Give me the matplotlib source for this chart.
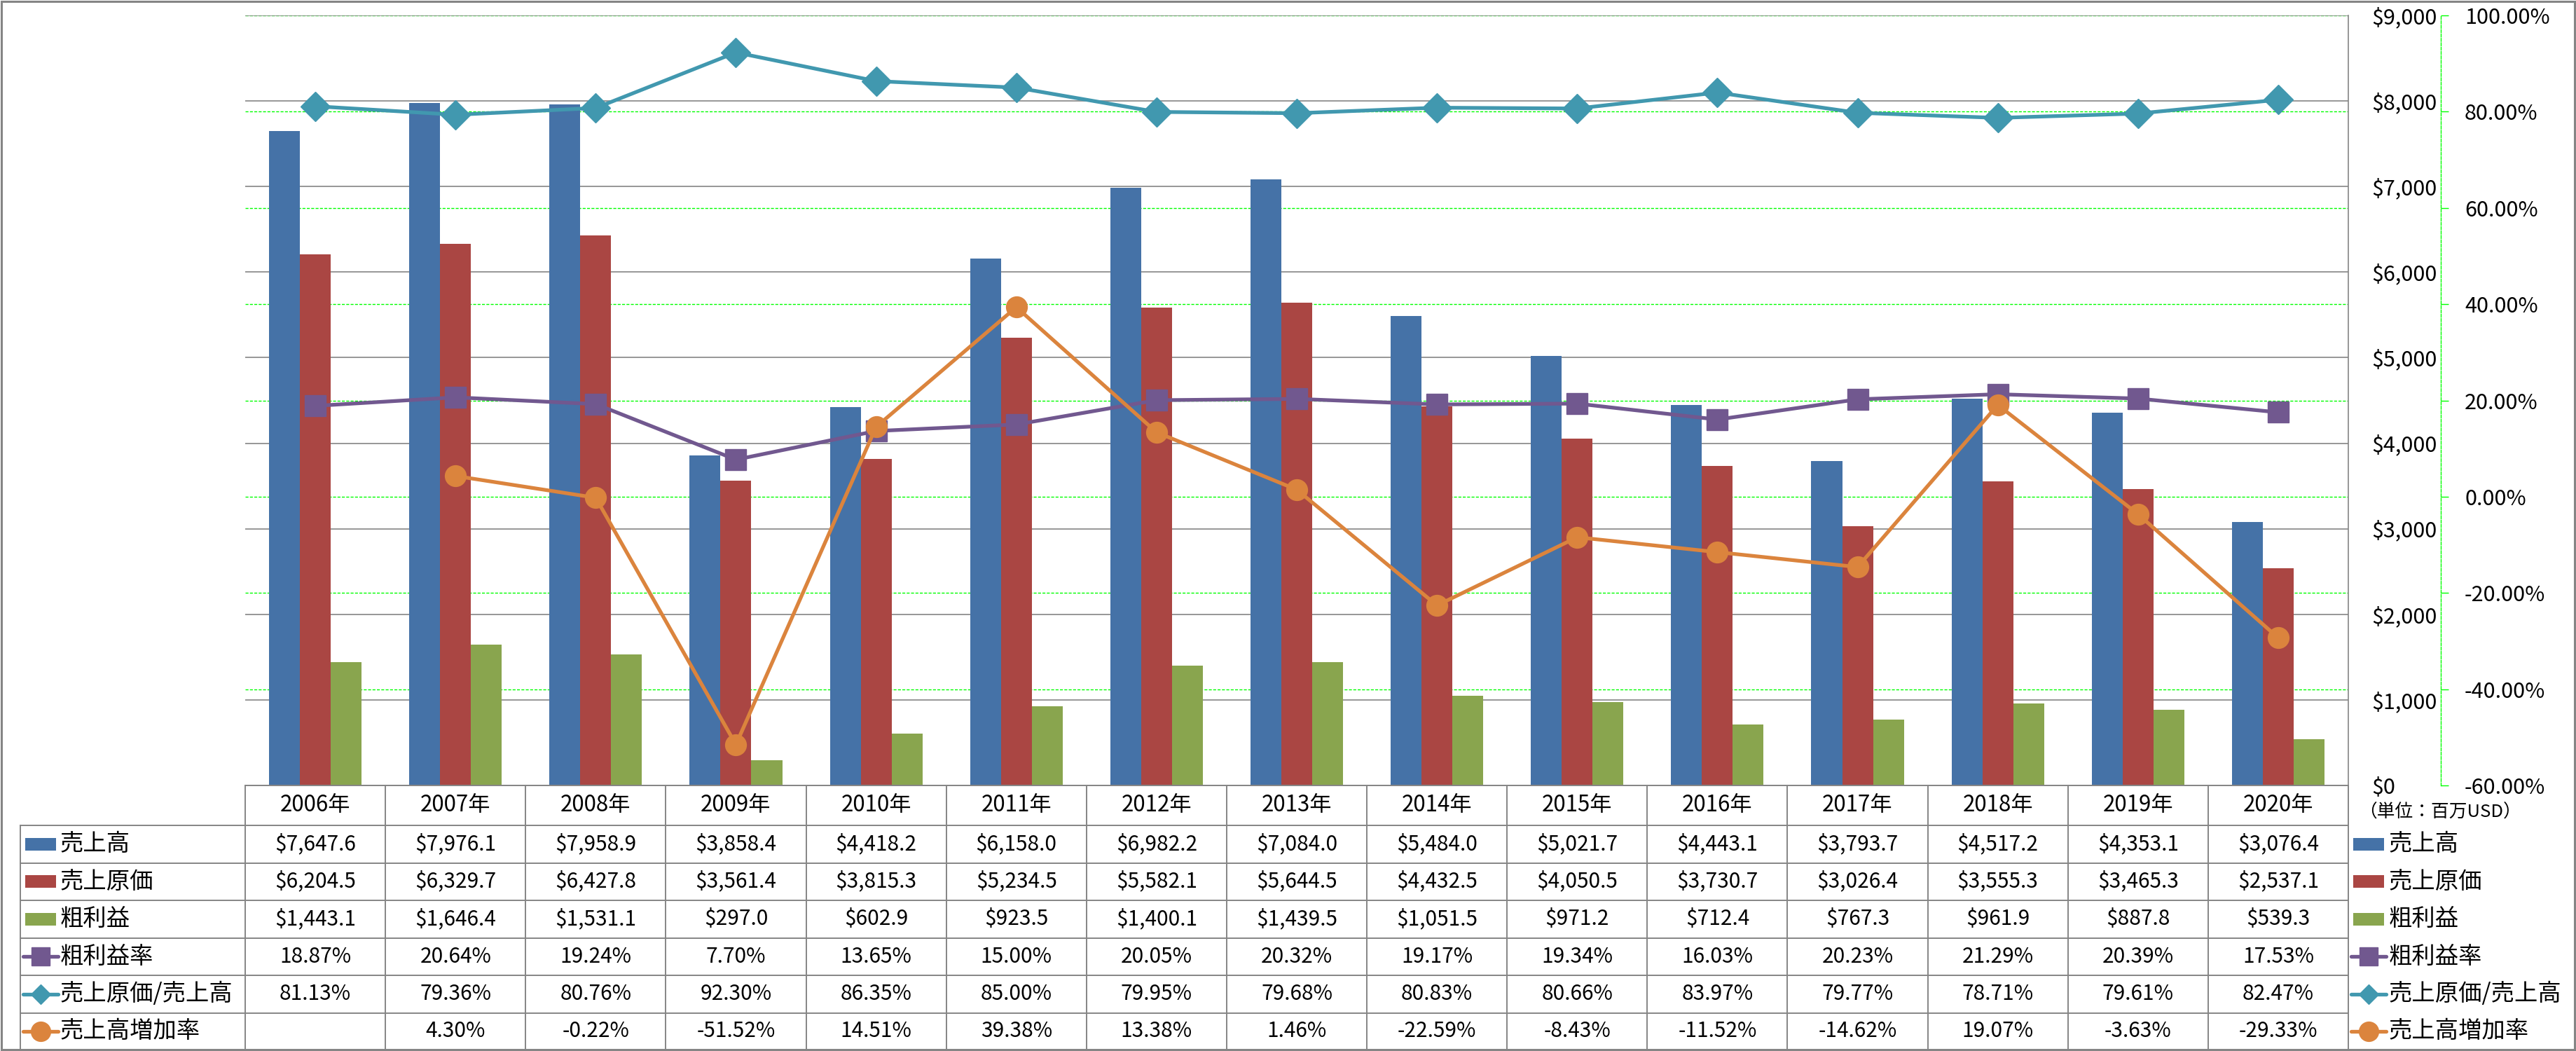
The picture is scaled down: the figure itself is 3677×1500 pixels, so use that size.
import numpy as np
import matplotlib
matplotlib.use('Agg')
import matplotlib.pyplot as plt
from matplotlib.patches import Rectangle
from matplotlib.lines import Line2D

plt.rcParams['font.family'] = ['Noto Sans CJK JP', 'DejaVu Sans']

# data (百万USD / %)
years = ['2006年', '2007年', '2008年', '2009年', '2010年', '2011年', '2012年', '2013年',
         '2014年', '2015年', '2016年', '2017年', '2018年', '2019年', '2020年']
sales = [7647.6, 7976.1, 7958.9, 3858.4, 4418.2, 6158.0, 6982.2, 7084.0,
         5484.0, 5021.7, 4443.1, 3793.7, 4517.2, 4353.1, 3076.4]
cogs = [6204.5, 6329.7, 6427.8, 3561.4, 3815.3, 5234.5, 5582.1, 5644.5,
        4432.5, 4050.5, 3730.7, 3026.4, 3555.3, 3465.3, 2537.1]
gross = [1443.1, 1646.4, 1531.1, 297.0, 602.9, 923.5, 1400.1, 1439.5,
         1051.5, 971.2, 712.4, 767.3, 961.9, 887.8, 539.3]
gm_rate = [18.87, 20.64, 19.24, 7.70, 13.65, 15.00, 20.05, 20.32,
           19.17, 19.34, 16.03, 20.23, 21.29, 20.39, 17.53]
cogs_ratio = [81.13, 79.36, 80.76, 92.30, 86.35, 85.00, 79.95, 79.68,
              80.83, 80.66, 83.97, 79.77, 78.71, 79.61, 82.47]
growth = [np.nan, 4.30, -0.22, -51.52, 14.51, 39.38, 13.38, 1.46,
          -22.59, -8.43, -11.52, -14.62, 19.07, -3.63, -29.33]

names = ['売上高', '売上原価', '粗利益', '粗利益率', '売上原価/売上高', '売上高増加率']
colors = ['#4572A7', '#AA4643', '#89A54E', '#71588F', '#4198AF', '#DB843D']
markers = [None, None, None, 's', 'D', 'o']

W, H = 3677, 1500
DPI = 100
fig = plt.figure(figsize=(W / DPI, H / DPI), dpi=DPI)
px = 72 / DPI  # pixels -> points

# plot area (pixels)
L, R, T, B = 350, 3352, 22, 1121


def fbox(l, t, r, b):
    return [l / W, 1 - b / H, (r - l) / W, (b - t) / H]


n = len(years)
x = np.arange(n)
gray = '#858585'
green = '#00FF00'

# percent axis with green grid (bottom layer)
axg = fig.add_axes(fbox(L, T, R, B), zorder=0)
axg.set_xlim(-0.5, n - 0.5)
axg.set_ylim(-60, 100)
axg.set_xticks([])
pct_ticks = list(range(-60, 101, 20))
axg.set_yticks(pct_ticks)
axg.yaxis.tick_right()
axg.set_yticklabels([f'{v:.2f}%' for v in pct_ticks])
for lbl, v in zip(axg.get_yticklabels(), pct_ticks):
    lbl.set_color('#FF0000' if v < 0 else 'black')
axg.tick_params(axis='y', length=11 * px, width=1, color=green, pad=23 * px, labelsize=22)
axg.grid(axis='y', color=green, linestyle=(0, (3, 1.5)), linewidth=1.0)
for s in ['top', 'left', 'bottom']:
    axg.spines[s].set_visible(False)
axg.spines['right'].set_position(('axes', 1 + (3484 - R) / (R - L)))
axg.spines['right'].set_color(green)
axg.spines['right'].set_linestyle((0, (3, 1.5)))
axg.spines['right'].set_linewidth(1.0)

# money axis with bars
ax = fig.add_axes(fbox(L, T, R, B), zorder=1)
ax.patch.set_visible(False)
ax.set_xlim(-0.5, n - 0.5)
ax.set_ylim(0, 9000)
ax.set_xticks([])
usd_ticks = list(range(0, 9001, 1000))
ax.set_yticks(usd_ticks)
ax.yaxis.tick_right()
ax.set_yticklabels([f'${v:,.0f}' for v in usd_ticks])
ax.tick_params(axis='y', length=0, pad=(3385 - R) * px, labelsize=22)
ax.grid(axis='y', color=gray, linewidth=1.2)
ax.set_axisbelow(True)
for s in ['top', 'left', 'bottom']:
    ax.spines[s].set_visible(False)
ax.spines['right'].set_color(gray)
ax.spines['right'].set_linewidth(1.2)

bw = 0.22
for off, vals, c in zip([-bw, 0, bw], [sales, cogs, gross], colors[:3]):
    ax.bar(x + off, vals, width=bw, color=c, linewidth=0, zorder=2)

# percent lines (top layer)
axl = fig.add_axes(fbox(L, T, R, B), zorder=2)
axl.patch.set_visible(False)
axl.set_xlim(-0.5, n - 0.5)
axl.set_ylim(-60, 100)
axl.axis('off')
line_ms = {'s': 21, 'D': 21, 'o': 21.5}
for vals, c, m in zip([gm_rate, cogs_ratio, growth], colors[3:], markers[3:]):
    axl.plot(x, vals, color=c, linewidth=3.8, marker=m, markersize=line_ms[m],
             markeredgecolor=c, markerfacecolor=c)

# overlay for data table, legend and frame (pixel coords)
axo = fig.add_axes([0, 0, 1, 1], zorder=3)
axo.patch.set_visible(False)
axo.set_xlim(0, W)
axo.set_ylim(H, 0)
axo.axis('off')

col_w = (R - L) / n
rows_y = [1121, 1178, 1231.5, 1285, 1338.5, 1392, 1445.5, 1498]
tl = 29
lw_t = 1.4

axo.plot([L, R], [rows_y[0], rows_y[0]], color=gray, lw=lw_t)
for yy in rows_y[1:]:
    axo.plot([tl, R], [yy, yy], color=gray, lw=lw_t)
axo.plot([tl, tl], [rows_y[1], rows_y[-1]], color=gray, lw=lw_t)
for k in range(n + 1):
    xx = L + k * col_w
    axo.plot([xx, xx], [rows_y[0], rows_y[-1]], color=gray, lw=lw_t)

# outer frame
axo.add_patch(Rectangle((2, 1.5), W - 4.5, H - 3.5, fill=False, edgecolor=gray, lw=2.2))

# header
hy = (rows_y[0] + rows_y[1]) / 2
for i, yr in enumerate(years):
    axo.text(L + (i + 0.5) * col_w, hy, yr, ha='center', va='center', fontsize=22.5)


def fmt_usd(v):
    return f'${v:,.1f}'


def fmt_pct(v):
    return '' if np.isnan(v) else f'{v:.2f}%'


series = [sales, cogs, gross, gm_rate, cogs_ratio, growth]
fmts = [fmt_usd, fmt_usd, fmt_usd, fmt_pct, fmt_pct, fmt_pct]
leg_ms = {'s': 19, 'D': 14, 'o': 20}


def draw_key(xc, yc, c, m):
    if m is None:
        axo.add_patch(Rectangle((xc - 22, yc - 9), 44, 18, color=c, lw=0))
    else:
        axo.add_line(Line2D([xc - 25, xc + 25], [yc, yc], color=c, lw=3.8,
                            solid_capstyle='round'))
        axo.plot([xc], [yc], marker=m, markersize=leg_ms[m], color=c,
                 markeredgecolor=c)


for r, (nm, vals, f, c, m) in enumerate(zip(names, series, fmts, colors, markers)):
    yc = (rows_y[r + 1] + rows_y[r + 2]) / 2
    # row label with key
    draw_key(58, yc, c, m)
    axo.text(86, yc, nm, ha='left', va='center', fontsize=24)
    for i, v in enumerate(vals):
        axo.text(L + (i + 0.5) * col_w, yc, f(v), ha='center', va='center', fontsize=21.5)
    # right legend
    draw_key(3381, yc, c, m)
    axo.text(3410, yc, nm, ha='left', va='center', fontsize=24)

axo.text(3483, 1160, '（単位：百万USD）', ha='center', va='center', fontsize=18.5)

fig.savefig('out.png', dpi=DPI)
